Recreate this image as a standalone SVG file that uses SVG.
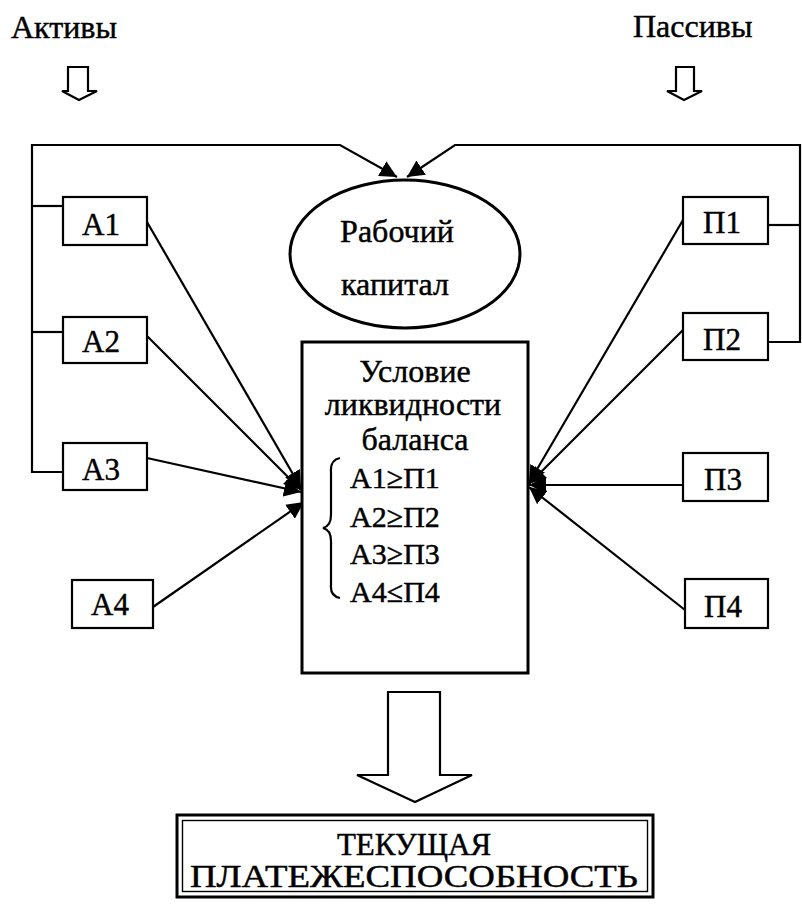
<svg xmlns="http://www.w3.org/2000/svg" width="802" height="912" viewBox="0 0 802 912">
<defs>
<style>
text{font-family:"Liberation Serif","Times New Roman",serif;fill:#000;stroke:#000;stroke-width:0.45px;}
.t{font-size:31px;}
.h{font-size:32px;}
.f{font-size:30px;}
.c{text-anchor:middle;}
.box{fill:#fff;stroke:#000;stroke-width:2.2;}
.ln{fill:none;stroke:#000;stroke-width:2.2;}
.bigar{fill:#fff;stroke:#000;stroke-width:2.2;stroke-linejoin:miter;}
</style>
<marker id="ahb" viewBox="0 0 10 10" refX="10" refY="5" markerWidth="17" markerHeight="17" markerUnits="userSpaceOnUse" orient="auto">
<path d="M0,0 L10,5 L0,10 Z" fill="#000"/>
</marker>
</defs>
<rect width="802" height="912" fill="#fff"/>

<g id="title-aktivy">
<text class="h" x="11" y="38">Активы</text>
<polygon class="bigar" points="68,67 88,67 88,91 97,91 79,100 62,91 68,91"/>
</g>
<g id="title-passivy">
<text class="h" x="633" y="37">Пассивы</text>
<polygon class="bigar" points="676,67 694,67 694,91 702,91 684,100 667,91 676,91"/>
</g>

<g id="connectors">
<polyline class="ln" points="63,206 32,206"/>
<polyline class="ln" points="63,332 32,332"/>
<polyline class="ln" points="63,472 32,472 32,145 340,145 397,177" style="marker-end:url(#ahb)"/>
<polyline class="ln" points="768,225 800,225"/>
<polyline class="ln" points="768,342 800,342 800,145 455,145 407,177" style="marker-end:url(#ahb)"/>
<line class="ln" x1="147" y1="222" x2="301" y2="488" style="marker-end:url(#ahb)"/>
<line class="ln" x1="147" y1="336" x2="301" y2="490" style="marker-end:url(#ahb)"/>
<line class="ln" x1="147" y1="458" x2="301" y2="492" style="marker-end:url(#ahb)"/>
<line class="ln" x1="153" y1="607" x2="304" y2="502" style="marker-end:url(#ahb)"/>
<line class="ln" x1="683" y1="220" x2="529" y2="483" style="marker-end:url(#ahb)"/>
<line class="ln" x1="683" y1="330" x2="529" y2="484" style="marker-end:url(#ahb)"/>
<line class="ln" x1="683" y1="485" x2="529" y2="485" style="marker-end:url(#ahb)"/>
<line class="ln" x1="685" y1="610" x2="529" y2="487" style="marker-end:url(#ahb)"/>
<polygon class="bigar" points="388,692 440,692 440,775 472,775 415,802 357,775 388,775"/>
</g>

<g id="working-capital">
<ellipse cx="405" cy="254" rx="115" ry="74" fill="#fff" stroke="#000" stroke-width="3"/>
<text class="h c" x="397" y="242">Рабочий</text>
<text class="h c" x="395" y="295">капитал</text>
</g>

<g id="condition">
<rect x="302" y="342" width="226" height="331" fill="#fff" stroke="#000" stroke-width="3"/>
<text class="h c" x="415" y="382">Условие</text>
<text class="h c" x="413" y="415">ликвидности</text>
<text class="h c" x="415" y="450">баланса</text>
<path class="ln" d="M340,458 Q330,460 331,472 L331,515 Q331,526 323,528 Q331,530 331,541 L331,585 Q330,596 340,598" stroke-width="1.6"/>
<text class="f" x="350" y="488">А1≥П1</text>
<text class="f" x="350" y="527">А2≥П2</text>
<text class="f" x="350" y="564">А3≥П3</text>
<text class="f" x="350" y="602">А4≤П4</text>
</g>

<g id="A1"><rect class="box" x="63" y="197" width="84" height="48"/><text class="t c" x="101" y="235">А1</text></g>
<g id="A2"><rect class="box" x="63" y="317" width="84" height="46"/><text class="t c" x="101" y="352">А2</text></g>
<g id="A3"><rect class="box" x="63" y="443" width="84" height="47"/><text class="t c" x="101" y="480">А3</text></g>
<g id="A4"><rect class="box" x="72" y="580" width="81" height="48"/><text class="t c" x="110" y="615">А4</text></g>
<g id="P1"><rect class="box" x="683" y="197" width="85" height="47"/><text class="t c" x="722" y="233">П1</text></g>
<g id="P2"><rect class="box" x="683" y="313" width="85" height="47"/><text class="t c" x="722" y="350">П2</text></g>
<g id="P3"><rect class="box" x="683" y="453" width="85" height="48"/><text class="t c" x="723" y="490">П3</text></g>
<g id="P4"><rect class="box" x="685" y="579" width="83" height="49"/><text class="t c" x="723" y="617">П4</text></g>

<g id="solvency">
<rect x="177" y="815" width="476" height="82" fill="#fff" stroke="#000" stroke-width="3"/>
<rect x="182.5" y="820.5" width="465" height="71" fill="none" stroke="#000" stroke-width="1.4"/>
<text class="c" x="414" y="855" style="font-size:31px">ТЕКУЩАЯ</text>
<text class="c" x="414" y="887" style="font-size:31px" textLength="448" lengthAdjust="spacingAndGlyphs">ПЛАТЕЖЕСПОСОБНОСТЬ</text>
</g>
</svg>
